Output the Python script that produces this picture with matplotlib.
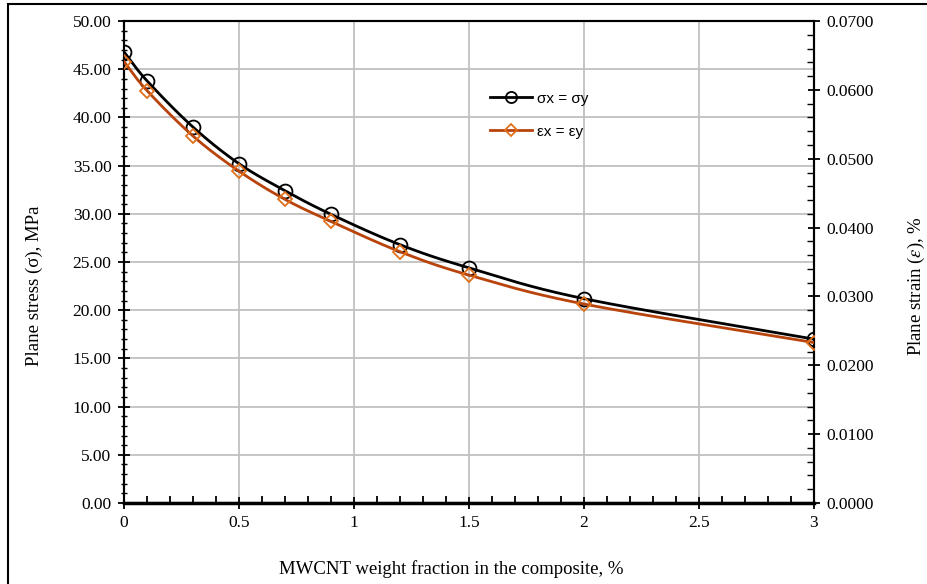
import matplotlib.pyplot as plt
from matplotlib.patches import Rectangle
from matplotlib.ticker import MultipleLocator, FormatStrFormatter
import numpy as np

# MWCNT weight fraction (%)
wt_frac = [0, 0.1, 0.3, 0.5, 0.7, 0.9, 1.2, 1.5, 2.0, 3.0]
# plane stress sigma_x = sigma_y (MPa)
stress = [46.8, 43.8, 39.0, 35.2, 32.4, 29.95, 26.8, 24.4, 21.2, 17.0]
# plane strain eps_x = eps_y (%)
strain = [0.0641, 0.0599, 0.0533, 0.0482, 0.0441, 0.0409, 0.0365, 0.0331, 0.0289, 0.0233]


def smooth(x, y, n=30):
    # catmull-rom style curve through the points (like Excel's smoothed line)
    x = np.asarray(x, float)
    y = np.asarray(y, float)
    px = np.concatenate([[2 * x[0] - x[1]], x, [2 * x[-1] - x[-2]]])
    py = np.concatenate([[2 * y[0] - y[1]], y, [2 * y[-1] - y[-2]]])
    xs, ys = [], []
    t = np.linspace(0, 1, n)
    for i in range(1, len(px) - 2):
        for p, out in ((px, xs), (py, ys)):
            p0, p1, p2, p3 = p[i - 1], p[i], p[i + 1], p[i + 2]
            out.extend(0.5 * ((2 * p1) + (-p0 + p2) * t
                              + (2 * p0 - 5 * p1 + 4 * p2 - p3) * t ** 2
                              + (-p0 + 3 * p1 - 3 * p2 + p3) * t ** 3))
    return xs, ys


plt.rcParams['font.family'] = ['Liberation Serif', 'DejaVu Serif']
plt.rcParams['mathtext.fontset'] = 'stix'

fig = plt.figure(figsize=(9.28, 5.84), dpi=100)
ax = fig.add_axes([0.1336, 0.1387, 0.877 - 0.1336, 0.964 - 0.1387])
ax2 = ax.twinx()

fig.patches.append(Rectangle((8 / 928, -0.05), 1.1, 1.05 - 4 / 584, transform=fig.transFigure,
                             fill=False, edgecolor='black', linewidth=1.5, clip_on=False))

black = '#000000'
brown = '#B8440C'
orange = '#E0701A'

sx, sy = smooth(wt_frac, stress)
ax.plot(sx, sy, color=black, linewidth=2, zorder=3)
ax.plot(wt_frac, stress, linestyle='none', marker='o', markersize=10,
        markerfacecolor='none', markeredgecolor=black, markeredgewidth=1.3, zorder=4)

ex, ey = smooth(wt_frac, strain)
ax2.plot(ex, ey, color=brown, linewidth=2, zorder=3)
ax2.plot(wt_frac, strain, linestyle='none', marker='D', markersize=7,
         markerfacecolor='none', markeredgecolor=orange, markeredgewidth=1.3, zorder=4)

ax.set_xlim(0, 3)
ax.set_ylim(0, 50)
ax2.set_ylim(0, 0.07)

ax.xaxis.set_major_locator(MultipleLocator(0.5))
ax.xaxis.set_minor_locator(MultipleLocator(0.1))
ax.yaxis.set_major_locator(MultipleLocator(5))
ax.yaxis.set_minor_locator(MultipleLocator(1))
ax2.yaxis.set_major_locator(MultipleLocator(0.01))
ax2.yaxis.set_minor_locator(MultipleLocator(0.002))
ax.yaxis.set_major_formatter(FormatStrFormatter('%.2f'))
ax2.yaxis.set_major_formatter(FormatStrFormatter('%.4f'))
ax.xaxis.set_major_formatter(lambda v, p: f'{v:g}')

ax.grid(True, which='major', color='#C0C0C0', linewidth=1.3)
ax.set_axisbelow(True)

for a in (ax, ax2):
    for s in a.spines.values():
        s.set_linewidth(1.5)
        s.set_color('black')
ax.spines['bottom'].set_linewidth(2.5)

ax.tick_params(axis='x', which='major', direction='inout', length=8, width=1.3, pad=5, labelsize=12.5)
ax.tick_params(axis='x', which='minor', direction='in', length=5, width=1.3)
ax.tick_params(axis='y', which='major', direction='inout', length=8, width=1.3, pad=5, labelsize=12.5)
ax.tick_params(axis='y', which='minor', direction='inout', length=5, width=1.0)
ax2.tick_params(axis='y', which='major', direction='inout', length=8, width=1.3, pad=5, labelsize=12.5)
ax2.tick_params(axis='y', which='minor', direction='in', length=5, width=1.0)

ax.set_xlabel('MWCNT weight fraction in the composite, %', fontsize=13.5)
ax.set_ylabel('Plane stress (σ), MPa', fontsize=13.5)
ax2.set_ylabel('Plane strain ($\\varepsilon$), %', fontsize=13.5)
ax.xaxis.set_label_coords(0.475, -0.118)
ax.yaxis.set_label_coords(-0.118, 0.45)
ax2.yaxis.set_label_coords(1.133, 0.45)

# legend
h1, = ax.plot([], [], color=black, linewidth=2, marker='o', markersize=8,
              markerfacecolor='none', markeredgecolor=black, markeredgewidth=1.3)
h2, = ax.plot([], [], color=brown, linewidth=2, marker='D', markersize=6,
              markerfacecolor='none', markeredgecolor=orange, markeredgewidth=1.3)
ax.legend([h1, h2], ['σx = σy', 'εx = εy'], loc='upper left', bbox_to_anchor=(0.51, 0.882),
          frameon=False, handlelength=2.8, labelspacing=1.25, handletextpad=0.3,
          prop={'family': ['Liberation Sans', 'DejaVu Sans'], 'size': 11})

fig.savefig('out.png', dpi=100)
